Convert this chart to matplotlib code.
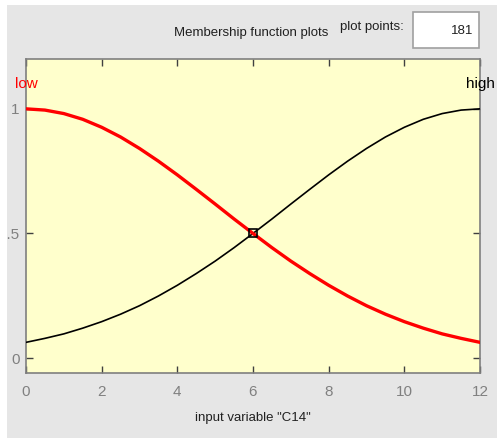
import matplotlib
matplotlib.use("Agg")
import matplotlib.pyplot as plt
from matplotlib.patches import Rectangle
from matplotlib import font_manager

# Data (membership values at x = 0, 0.5, ..., 12)
x_vals = [0, 0.5, 1, 1.5, 2, 2.5, 3, 3.5, 4, 4.5, 5, 5.5, 6,
          6.5, 7, 7.5, 8, 8.5, 9, 9.5, 10, 10.5, 11, 11.5, 12]
low_vals = [1.000, 0.995, 0.981, 0.958, 0.926, 0.887, 0.841, 0.790, 0.735,
            0.677, 0.618, 0.558, 0.500, 0.443, 0.389, 0.339, 0.292, 0.249,
            0.210, 0.176, 0.146, 0.120, 0.097, 0.079, 0.063]
high_vals = [0.063, 0.079, 0.097, 0.120, 0.146, 0.176, 0.210, 0.249, 0.292,
             0.339, 0.389, 0.443, 0.500, 0.558, 0.618, 0.677, 0.735, 0.790,
             0.841, 0.887, 0.926, 0.958, 0.981, 0.995, 1.000]
mf_names = ["low", "high"]
mf_peaks = [0, 12]
x_ticks = [0, 2, 4, 6, 8, 10, 12]
y_ticks = [0, 0.5, 1]
y_ticklabels = ["0", "0.5", "1"]
selected_point = (6, 0.5)

narrow = False
try:
    font_manager.findfont("Liberation Sans Narrow", fallback_to_default=False)
    narrow = True
except Exception:
    narrow = False

if narrow:
    plt.rcParams['font.family'] = ["Liberation Sans Narrow", "DejaVu Sans"]
    FS = 11.5
else:
    plt.rcParams['font.family'] = ["Liberation Sans", "DejaVu Sans"]
    FS = 9.5

W, H = 497, 438
fig = plt.figure(figsize=(W / 100, H / 100), dpi=100, facecolor="#e6e6e6")
# white screenshot margins (top and left)
fig.patches.append(Rectangle((0, 0), 7 / W, 1, transform=fig.transFigure,
                             facecolor="white", edgecolor="none", zorder=20))
fig.patches.append(Rectangle((0, 1 - 5 / H), 1, 5 / H,
                             transform=fig.transFigure, facecolor="white",
                             edgecolor="none", zorder=20))

ax = fig.add_axes([26 / W, 1 - 373 / H, 454 / W, 314 / H])
ax.set_zorder(5)
ax.set_facecolor("#ffffcc")
ax.plot(x_vals, high_vals, color="black", lw=1.2, zorder=3)
ax.plot(x_vals, low_vals, color="#ff0000", lw=2.4, zorder=4)
ax.plot([selected_point[0]], [selected_point[1]], marker="s", ms=6,
        mfc="none", mec="black", mew=1.2, zorder=5)

ax.set_xlim(0, 12)
ax.set_ylim(-0.06, 1.2)
ax.set_xticks(x_ticks)
ax.set_yticks(y_ticks)
ax.set_yticklabels(y_ticklabels)
ax.tick_params(direction="in", length=5, width=1, color="#404040",
               top=True, right=True, labelcolor="#808080", labelsize=FS + 1.5)
ax.tick_params(axis="y", pad=4.5)
ax.tick_params(axis="x", pad=9)
for s in ax.spines.values():
    s.set_color("#7f7f7f")
    s.set_linewidth(1.2)

for name, pk, col in zip(mf_names, mf_peaks, ["#ff0000", "black"]):
    ax.text(pk, 1.10, name, color=col, ha="center", va="center",
            fontsize=FS + 1.5, clip_on=False, zorder=6)

ax.set_xlabel('input variable "C14"', fontsize=FS, color="#202020",
              labelpad=9)

fig.text(251 / W, 1 - 33 / H, "Membership function plots", ha="center",
         va="center", fontsize=FS, color="#202020", zorder=3)
fig.text(372 / W, 1 - 27 / H, "plot points:", ha="center",
         va="center", fontsize=FS, color="#202020", zorder=3)
box = Rectangle((413 / W, 1 - 48 / H), 66 / W, 36 / H,
                transform=fig.transFigure, facecolor="white",
                edgecolor="#a0a0a0", lw=1.2, zorder=1)
fig.patches.append(box)
fig.text(473 / W, 1 - 31 / H, "181", ha="right", va="center",
         fontsize=FS, color="#202020", zorder=3)

fig.savefig("out.png", dpi=100, facecolor=fig.get_facecolor())
